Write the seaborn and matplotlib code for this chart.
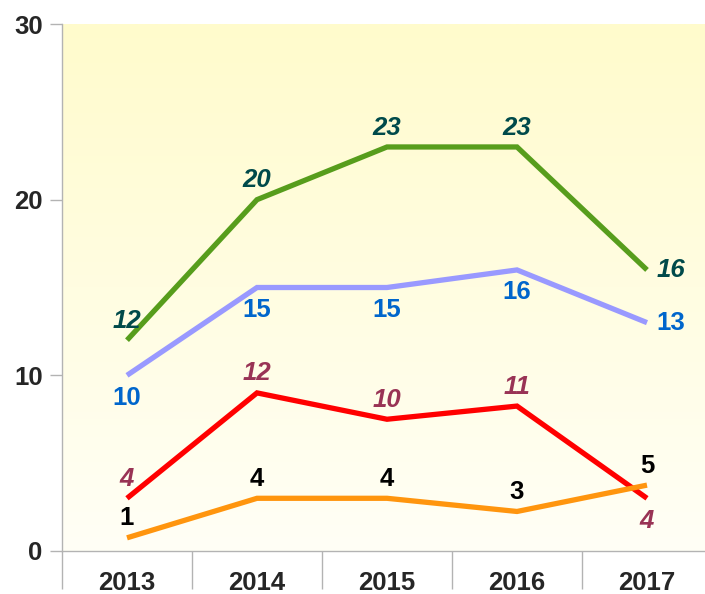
import numpy as np
import pandas as pd
import matplotlib
matplotlib.use("Agg")
import matplotlib.pyplot as plt
import seaborn as sns

# data
years = ["2013", "2014", "2015", "2016", "2017"]
green_vals = [12, 20, 23, 23, 16]   # primary axis
blue_vals = [10, 15, 15, 16, 13]    # primary axis
red_vals = [4, 12, 10, 11, 4]       # secondary axis (0-40, hidden)
orange_vals = [1, 4, 4, 3, 5]       # secondary axis (0-40, hidden)

df = pd.DataFrame({
    "pos": range(len(years)),
    "year": years,
    "green": green_vals,
    "blue": blue_vals,
    "red": red_vals,
    "orange": orange_vals,
})

sns.set_theme(style="white")
plt.rcParams['font.family'] = ['Liberation Sans', 'DejaVu Sans']

fig = plt.figure(figsize=(7.05, 5.94), dpi=100)
ax = fig.add_axes([62 / 705, 43 / 594, 650 / 705, 527 / 594])

# yellow -> white gradient background
grad = np.linspace(0, 1, 256).reshape(-1, 1)
top = np.array([255, 251, 204]) / 255
bot = np.array([255, 255, 246]) / 255
img = top * (1 - grad[..., None]) + bot * grad[..., None]
ax.imshow(img, extent=[0, 1, 0, 1], transform=ax.transAxes, aspect="auto",
          zorder=0, interpolation="bilinear")

ax2 = ax.twinx()

lw = 3.8
line_kw = dict(solid_capstyle="butt", solid_joinstyle="miter")
sns.lineplot(data=df, x="pos", y="green", ax=ax, color="#579d1c", linewidth=lw, **line_kw)
sns.lineplot(data=df, x="pos", y="blue", ax=ax, color="#9999ff", linewidth=lw, **line_kw)
sns.lineplot(data=df, x="pos", y="red", ax=ax2, color="#ff0000", linewidth=lw, **line_kw)
sns.lineplot(data=df, x="pos", y="orange", ax=ax2, color="#ff950e", linewidth=lw, **line_kw)

ax.set_xlim(-0.5, len(years) - 0.5)
ax.set_ylim(0, 30)
ax2.set_ylim(0, 40)
ax2.set_xlim(-0.5, len(years) - 0.5)
ax2.axis("off")

# data labels
offs = {"above": ((0, 14), "center", "center"),
        "below": ((0, -16), "center", "center"),
        "right": ((7, 0), "left", "center")}

def label(axis, vals, places, color, style):
    for i, (v, p) in enumerate(zip(vals, places)):
        (dx, dy), ha, va = offs[p]
        axis.annotate(str(v), (i, v), xytext=(dx, dy), textcoords="offset points",
                      ha=ha, va=va, fontsize=18.5, fontweight="bold",
                      fontstyle=style, color=color, zorder=5)

label(ax, green_vals, ["above", "above", "above", "above", "right"], "#004a4a", "italic")
label(ax, blue_vals, ["below", "below", "below", "below", "right"], "#0066cc", "normal")
label(ax2, red_vals, ["above", "above", "above", "above", "below"], "#993355", "italic")
label(ax2, orange_vals, ["above", "above", "above", "above", "above"], "black", "normal")

# axes styling
for s in ["top", "right"]:
    ax.spines[s].set_visible(False)
for s in ["left", "bottom"]:
    ax.spines[s].set_color("#b3b3b3")
    ax.spines[s].set_linewidth(1.0)

ax.set_xticks(range(len(years)))
ax.set_xticklabels(years)
ax.set_xticks(np.arange(-0.5, len(years)), minor=True)
ax.tick_params(axis="x", which="major", length=0, pad=14.5, labelsize=18.5)
ax.tick_params(axis="x", which="minor", length=27, color="#b3b3b3", width=1.0, bottom=True)
ax.set_yticks([0, 10, 20, 30])
ax.tick_params(axis="y", length=9, color="#b3b3b3", width=1.0, pad=5, labelsize=18.5, left=True)
for t in ax.get_xticklabels() + ax.get_yticklabels():
    t.set_fontweight("bold")
ax.set_xlabel("")
ax.set_ylabel("")
ax.grid(False)

fig.savefig("out.png", dpi=100)
